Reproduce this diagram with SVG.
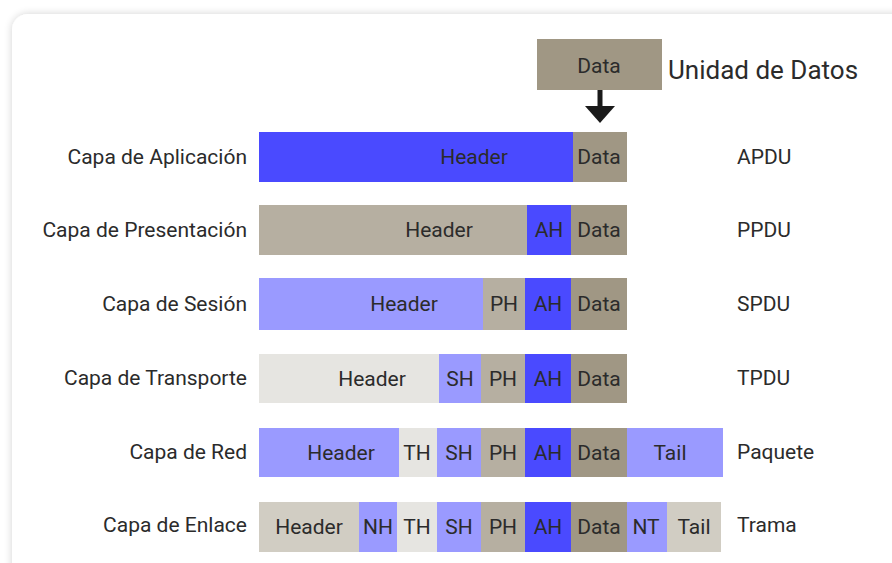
<svg xmlns="http://www.w3.org/2000/svg" width="892" height="563" viewBox="0 0 892 563">
  <defs>
    <filter id="cardShadow" x="-5%" y="-5%" width="110%" height="110%">
      <feGaussianBlur in="SourceAlpha" stdDeviation="4"/>
      <feComponentTransfer><feFuncA type="linear" slope="0.18"/></feComponentTransfer>
      <feMerge><feMergeNode/><feMergeNode in="SourceGraphic"/></feMerge>
    </filter>
    <!-- arrowhead drawn along +x so orient="auto" points it down the line -->
    <marker id="arrowHead" markerWidth="17" markerHeight="30" refX="0" refY="15" orient="auto" markerUnits="userSpaceOnUse" viewBox="0 0 17 30">
      <path d="M0,0 L17,15 L0,30 Z" fill="#1a1a1a"/>
    </marker>
  </defs>
  <style>
    text { font-family: Roboto, "Liberation Sans", sans-serif; font-size: 21px; fill: #2b2b2b; }
    .seg text { text-anchor: middle; }
    .seg text.lbl { text-anchor: end; }
    .seg text.pdu { text-anchor: start; }
    .blue { fill: #4a4aff; }
    .lilac { fill: #9a9aff; }
    .tan { fill: #b6afa1; }
    .data { fill: #a09784; }
    .pale { fill: #e6e5e1; }
    .sand { fill: #d1cdc3; }
  </style>

  <rect width="892" height="563" fill="#ffffff"/>
  <!-- card -->
  <rect x="12" y="14" width="920" height="600" rx="16" fill="#ffffff" filter="url(#cardShadow)"/>

  <!-- input data unit -->
  <g id="data-unit">
    <rect x="537" y="39" width="125" height="51" class="data"/>
    <text x="599" y="73" style="text-anchor:middle">Data</text>
    <text x="668" y="79" style="font-size:26px">Unidad de Datos</text>
  </g>

  <g id="connectors">
    <line x1="600" y1="90" x2="600" y2="106" stroke="#1a1a1a" stroke-width="5" marker-end="url(#arrowHead)"/>
  </g>

  <!-- Application layer -->
  <g id="aplicacion" class="seg">
    <text class="lbl" x="247" y="164">Capa de Aplicación</text>
    <rect x="259" y="132" width="314" height="50" class="blue"/>
    <rect x="573" y="132" width="54" height="50" class="data"/>
    <text x="474" y="164">Header</text>
    <text x="599" y="164">Data</text>
    <text class="pdu" x="737" y="164">APDU</text>
  </g>

  <!-- Presentation layer -->
  <g id="presentacion" class="seg">
    <text class="lbl" x="247" y="237">Capa de Presentación</text>
    <rect x="259" y="205" width="268" height="50" class="tan"/>
    <rect x="527" y="205" width="44" height="50" class="blue"/>
    <rect x="571" y="205" width="56" height="50" class="data"/>
    <text x="439" y="237">Header</text>
    <text x="549" y="237">AH</text>
    <text x="599" y="237">Data</text>
    <text class="pdu" x="737" y="237">PPDU</text>
  </g>

  <!-- Session layer -->
  <g id="sesion" class="seg">
    <text class="lbl" x="247" y="311">Capa de Sesión</text>
    <rect x="259" y="278" width="224" height="52" class="lilac"/>
    <rect x="483" y="278" width="42" height="52" class="tan"/>
    <rect x="525" y="278" width="46" height="52" class="blue"/>
    <rect x="571" y="278" width="56" height="52" class="data"/>
    <text x="404" y="311">Header</text>
    <text x="504" y="311">PH</text>
    <text x="548" y="311">AH</text>
    <text x="599" y="311">Data</text>
    <text class="pdu" x="737" y="311">SPDU</text>
  </g>

  <!-- Transport layer -->
  <g id="transporte" class="seg">
    <text class="lbl" x="247" y="385">Capa de Transporte</text>
    <rect x="259" y="354" width="180" height="49" class="pale"/>
    <rect x="439" y="354" width="42" height="49" class="lilac"/>
    <rect x="481" y="354" width="44" height="49" class="tan"/>
    <rect x="525" y="354" width="46" height="49" class="blue"/>
    <rect x="571" y="354" width="56" height="49" class="data"/>
    <text x="372" y="386">Header</text>
    <text x="460" y="386">SH</text>
    <text x="503" y="386">PH</text>
    <text x="548" y="386">AH</text>
    <text x="599" y="386">Data</text>
    <text class="pdu" x="737" y="385">TPDU</text>
  </g>

  <!-- Network layer -->
  <g id="red" class="seg">
    <text class="lbl" x="247" y="459">Capa de Red</text>
    <rect x="259" y="428" width="140" height="49" class="lilac"/>
    <rect x="399" y="428" width="38" height="49" class="pale"/>
    <rect x="437" y="428" width="44" height="49" class="lilac"/>
    <rect x="481" y="428" width="44" height="49" class="tan"/>
    <rect x="525" y="428" width="46" height="49" class="blue"/>
    <rect x="571" y="428" width="56" height="49" class="data"/>
    <rect x="627" y="428" width="96" height="49" class="lilac"/>
    <text x="341" y="460">Header</text>
    <text x="417" y="460">TH</text>
    <text x="459" y="460">SH</text>
    <text x="503" y="460">PH</text>
    <text x="548" y="460">AH</text>
    <text x="599" y="460">Data</text>
    <text x="670" y="460">Tail</text>
    <text class="pdu" x="737" y="459">Paquete</text>
  </g>

  <!-- Data link layer -->
  <g id="enlace" class="seg">
    <text class="lbl" x="247" y="532">Capa de Enlace</text>
    <rect x="259" y="502" width="100" height="50" class="sand"/>
    <rect x="359" y="502" width="38" height="50" class="lilac"/>
    <rect x="397" y="502" width="40" height="50" class="pale"/>
    <rect x="437" y="502" width="44" height="50" class="lilac"/>
    <rect x="481" y="502" width="44" height="50" class="tan"/>
    <rect x="525" y="502" width="46" height="50" class="blue"/>
    <rect x="571" y="502" width="56" height="50" class="data"/>
    <rect x="627" y="502" width="40" height="50" class="lilac"/>
    <rect x="667" y="502" width="54" height="50" class="sand"/>
    <text x="309" y="534">Header</text>
    <text x="378" y="534">NH</text>
    <text x="417" y="534">TH</text>
    <text x="459" y="534">SH</text>
    <text x="503" y="534">PH</text>
    <text x="548" y="534">AH</text>
    <text x="599" y="534">Data</text>
    <text x="646" y="534">NT</text>
    <text x="694" y="534">Tail</text>
    <text class="pdu" x="737" y="532">Trama</text>
  </g>
</svg>
